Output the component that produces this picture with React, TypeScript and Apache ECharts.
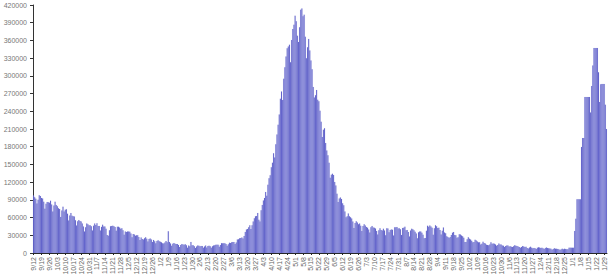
import React, { useEffect, useRef } from "react";
import * as echarts from "echarts";

// Daily values, 2020-09-12 .. 2022-01-31
const startDate = "2020-09-12";
const sep2020 = [97570, 94372, 92071, 83809, 90123, 97894, 96424, 93337, 92605, 86961, 75083, 83347, 86508, 86052, 85362, 88600, 82170, 70589, 80472];
const oct2020 = [86821, 81484, 79476, 75829, 74442, 61267, 72049, 78524, 70496, 73272, 74383, 66732, 55342, 63509, 67708, 63371, 62212, 61871, 55722, 46790, 54044, 55838, 54366, 53370, 50129, 45148, 36469, 43893, 49881, 48648, 46963];
const nov2020 = [46964, 45231, 38310, 46253, 50210, 47638, 50357, 45674, 45903, 38073, 44281, 47905, 44879, 44878, 41100, 30548, 29164, 38617, 45576, 45882, 46232, 45209, 44059, 37975, 44376, 44489, 43082, 41322, 41810, 38772];
const dec2020 = [31118, 36604, 35551, 36595, 36652, 36011, 32981, 26567, 32080, 31522, 29398, 30006, 30254, 27071, 22065, 26382, 24010, 22890, 25152, 26624, 24337, 19556, 23950, 24712, 23067, 18732, 22273, 20021, 16432, 20550, 21821];
const jan2021 = [20035, 19078, 18177, 16504, 16375, 18088, 20346, 18139, 37000, 18645, 16311, 12584, 15968, 16946, 15590, 15158, 15144, 13788, 10064, 13823, 15223, 14545, 14256, 14849, 13203, 9102, 12689, 11666, 18855, 13083, 13052];
const feb2021 = [11427, 8635, 11039, 12899, 12408, 11713, 12059, 11831, 9110, 11067, 12923, 9309, 12143, 12194, 11649, 9121, 11610, 12881, 13193, 13993, 14264, 14199, 10584, 13742, 16738, 16577, 16488, 16752];
const mar2021 = [15510, 12286, 14989, 17407, 16838, 18327, 18711, 18599, 15388, 17921, 22854, 23285, 24882, 25320, 26291, 24492, 28903, 35871, 39726, 40953, 43846, 46951, 40715, 47262, 53476, 59118, 62258, 62714, 68020, 56211, 53480];
const apr2021 = [72330, 81466, 89129, 93249, 103558, 96982, 115736, 126789, 131968, 145384, 152879, 168912, 161736, 184372, 200739, 217353, 234692, 261500, 273810, 259170, 295041, 314835, 332730, 346786, 349691, 352991, 323144, 360960, 379257, 386452];
const may2021 = [401993, 392488, 368147, 357229, 382315, 412262, 414188, 401078, 403738, 366161, 329942, 348421, 362727, 343144, 326098, 311170, 281386, 263533, 267334, 276110, 259591, 257299, 240842, 222315, 196427, 208921, 211298, 186364, 173790, 165553, 152734];
const jun2021 = [127510, 132788, 134154, 132364, 120529, 114460, 100636, 86498, 92596, 94052, 91702, 84332, 80834, 70421, 60471, 62224, 67208, 62480, 60753, 58419, 53256, 42640, 50848, 54069, 51667, 48698, 50040, 46148, 37566, 45951];
const jul2021 = [48786, 46617, 44111, 43071, 39796, 34703, 43733, 45892, 43393, 42766, 41506, 37154, 31443, 38792, 41806, 38949, 38079, 41157, 38164, 30093, 42015, 41383, 35342, 39097, 39742, 39361, 29689, 43654, 43509, 44230, 41649];
const aug2021 = [41831, 40134, 30549, 42625, 42982, 44643, 38628, 39070, 35499, 28204, 38353, 41195, 40120, 38667, 36083, 32937, 25166, 35178, 36401, 36571, 34457, 30948, 25072, 25467, 37593, 46164, 44658, 46759, 45083, 42909, 30941];
const sep2021 = [41965, 47092, 45352, 42618, 42766, 38948, 31222, 37875, 43263, 34973, 33376, 28591, 27254, 25404, 27176, 30570, 34403, 35662, 30773, 30256, 26115, 26964, 31923, 31382, 29616, 28326, 26041, 18795, 18870, 23529];
const oct2021 = [26727, 24354, 22842, 20799, 18346, 18833, 22431, 21257, 19740, 18166, 18132, 14313, 15823, 18987, 16862, 15981, 14146, 13596, 13058, 14623, 18454, 15786, 16326, 15906, 14306, 12428, 13451, 16156, 14348, 14313, 12830];
const nov2021 = [12514, 10423, 11903, 12885, 12729, 10929, 11451, 10853, 10126, 11466, 13091, 12516, 11850, 11271, 10229, 8865, 10197, 11919, 11106, 10302, 10488, 8488, 7579, 9283, 10549, 9119, 8318, 8774, 8309, 6990];
const dec2021 = [8954, 9765, 9216, 8603, 8895, 8306, 6822, 8439, 9419, 8503, 7992, 7774, 7350, 5784, 6984, 7974, 7447, 7145, 7081, 6563, 5326, 6317, 7495, 6650, 7189, 6987, 6531, 6358, 9195, 9195, 9195];
const jan2022 = [9195, 9195, 37379, 58097, 90928, 90928, 90928, 90928, 179723, 194720, 194720, 264202, 264202, 264202, 264202, 264202, 238018, 282970, 317532, 347254, 347254, 347254, 347254, 306064, 255874, 285914, 286384, 286384, 286384, 251209, 209918];

const values = [
  ...sep2020, ...oct2020, ...nov2020, ...dec2020,
  ...jan2021, ...feb2021, ...mar2021, ...apr2021, ...may2021, ...jun2021,
  ...jul2021, ...aug2021, ...sep2021, ...oct2021, ...nov2021, ...dec2021,
  ...jan2022,
];

function buildCategories(start: string, n: number): string[] {
  const out: string[] = [];
  const d = new Date(start + "T00:00:00Z");
  for (let i = 0; i < n; i++) {
    out.push(`${d.getUTCMonth() + 1}/${d.getUTCDate()}`);
    d.setUTCDate(d.getUTCDate() + 1);
  }
  return out;
}
const categories = buildCategories(startDate, values.length);

export default function App() {
  const ref = useRef<HTMLDivElement>(null);
  useEffect(() => {
    if (!ref.current) return;
    const chart = echarts.init(ref.current, undefined, { renderer: "svg" });
    chart.setOption({
      animation: false,
      grid: { left: 33, right: 4, top: 5, bottom: 25, containLabel: false },
      xAxis: {
        type: "category",
        data: categories,
        boundaryGap: true,
        axisLine: { lineStyle: { color: "#222", width: 1 } },
        axisTick: { show: true, interval: 6, length: 2, alignWithLabel: true, lineStyle: { color: "#222" } },
        axisLabel: {
          interval: 6,
          rotate: 90,
          fontSize: 7,
          color: "#666",
          fontFamily: "Liberation Sans, Arial, sans-serif",
          margin: 4,
        },
      },
      yAxis: {
        type: "value",
        min: 0,
        max: 420000,
        interval: 30000,
        splitLine: { show: false },
        axisLine: { show: true, lineStyle: { color: "#333", width: 1 } },
        axisTick: { show: true, length: 3, lineStyle: { color: "#333" } },
        axisLabel: {
          fontSize: 7,
          color: "#777",
          fontFamily: "Liberation Sans, Arial, sans-serif",
          margin: 6,
          formatter: (v: number) => String(v),
        },
      },
      series: [
        {
          type: "bar",
          data: values,
          barCategoryGap: "0%",
          itemStyle: { color: "#5c5cc8", borderColor: "#9aa8e6", borderWidth: 0.12 },
        },
      ],
    });
    return () => chart.dispose();
  }, []);
  return <div ref={ref} style={{ width: 611, height: 278, position: "absolute", left: 0, top: 0 }} />;
}
